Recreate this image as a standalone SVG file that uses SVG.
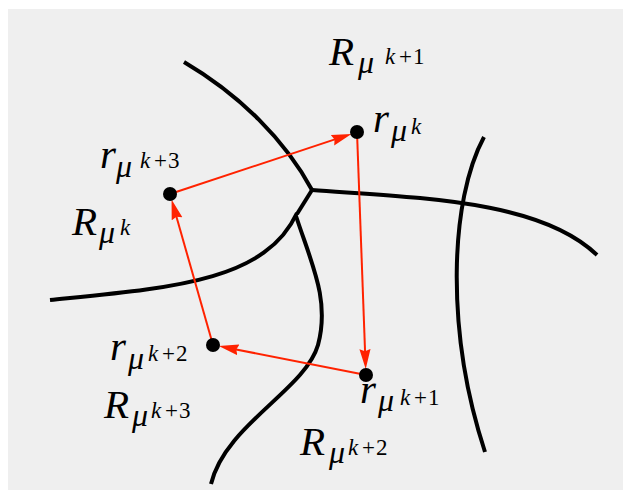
<svg xmlns="http://www.w3.org/2000/svg" width="631" height="496" viewBox="0 0 631 496">
<style>
.bd{fill:none;stroke:#000;stroke-width:4;stroke-linecap:butt}
.ar{fill:none;stroke:#ff2200;stroke-width:2}
.dot{fill:#000}
.m{font-family:"Liberation Serif","Times New Roman",serif;font-style:italic;fill:#000}
.b{font-size:41px}
.s{font-size:32px}
.ss{font-size:23px;font-style:normal;letter-spacing:1px}
.ssi{font-size:23px}
</style>
<defs>
<marker id="ah" markerUnits="userSpaceOnUse" markerWidth="20" markerHeight="12" refX="8" refY="5" orient="auto" viewBox="0 0 18 10">
<path d="M0,0 L18,5 L0,10 L2,5 z" fill="#ff2200"/>
</marker>
</defs>
<rect x="8" y="9" width="615" height="481" fill="#efefef"/>
<g id="boundaries">
<path class="bd" d="M184,62 C240,95 285,140 312,190"/>
<path class="bd" d="M312,190 C420,198 540,200 597,255"/>
<path class="bd" d="M312,190 L297,214"/>
<path class="bd" d="M50,300 C170,288 265,282 297,213"/>
<path class="bd" d="M296,216 C312,265 330,300 318,345 C305,390 225,425 211,484"/>
<path class="bd" d="M484,137 C450,200 445,330 485,452"/>
</g>
<g id="connectors">
<line class="ar" x1="170" y1="194" x2="340.9" y2="137.4" marker-end="url(#ah)"/>
<line class="ar" x1="357" y1="132" x2="365.3" y2="358" marker-end="url(#ah)"/>
<line class="ar" x1="366" y1="375" x2="229.7" y2="348.2" marker-end="url(#ah)"/>
<line class="ar" x1="213" y1="345" x2="174.6" y2="210.3" marker-end="url(#ah)"/>
</g>
<g id="r_mu_k">
<circle class="dot" cx="357" cy="132" r="7"/>
<text class="m"><tspan class="b" x="373" y="132">r</tspan><tspan class="s" x="391" y="141">μ</tspan><tspan class="ssi" x="411" y="134">k</tspan></text>
</g>
<g id="r_mu_k1">
<circle class="dot" cx="366" cy="375" r="7"/>
<text class="m"><tspan class="b" x="360" y="403">r</tspan><tspan class="s" x="378" y="411">μ</tspan><tspan class="ssi" x="400" y="405">k</tspan><tspan class="ss" x="414" y="405">+1</tspan></text>
</g>
<g id="r_mu_k2">
<circle class="dot" cx="213" cy="345" r="7"/>
<text class="m"><tspan class="b" x="110" y="360">r</tspan><tspan class="s" x="128" y="369">μ</tspan><tspan class="ssi" x="148" y="361">k</tspan><tspan class="ss" x="162" y="361">+2</tspan></text>
</g>
<g id="r_mu_k3">
<circle class="dot" cx="170" cy="194" r="7"/>
<text class="m"><tspan class="b" x="100" y="168">r</tspan><tspan class="s" x="116" y="177">μ</tspan><tspan class="ssi" x="140" y="168">k</tspan><tspan class="ss" x="154" y="168">+3</tspan></text>
</g>
<g id="R_mu_k">
<text class="m"><tspan class="b" x="72" y="235">R</tspan><tspan class="s" x="99" y="243">μ</tspan><tspan class="ssi" x="120" y="235">k</tspan></text>
</g>
<g id="R_mu_k1">
<text class="m"><tspan class="b" x="329" y="65">R</tspan><tspan class="s" x="358" y="73">μ</tspan><tspan class="ssi" x="385" y="64">k</tspan><tspan class="ss" x="399" y="64">+1</tspan></text>
</g>
<g id="R_mu_k2">
<text class="m"><tspan class="b" x="300" y="455">R</tspan><tspan class="s" x="329" y="463">μ</tspan><tspan class="ssi" x="348" y="455">k</tspan><tspan class="ss" x="362" y="455">+2</tspan></text>
</g>
<g id="R_mu_k3">
<text class="m"><tspan class="b" x="104" y="418">R</tspan><tspan class="s" x="132" y="426">μ</tspan><tspan class="ssi" x="151" y="418">k</tspan><tspan class="ss" x="165" y="418">+3</tspan></text>
</g>
</svg>
